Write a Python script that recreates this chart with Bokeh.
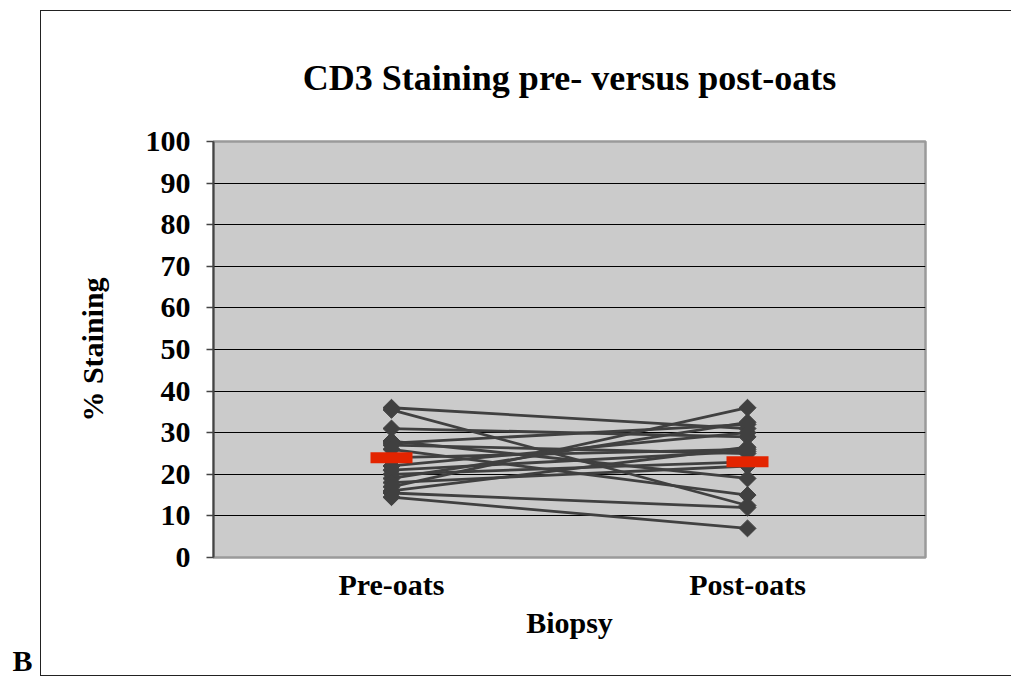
from bokeh.plotting import figure
from bokeh.models import (Range1d, FactorRange, FixedTicker, CategoricalAxis, Title,
                          InlineStyleSheet)
from bokeh.embed import file_html
from bokeh.resources import INLINE
import numpy as np

title_text = "CD3 Staining pre- versus post-oats"
panel_letter = "B"
categories = ["Pre-oats", "Post-oats"]
pre_values = [36, 35.5, 31, 28, 27.5, 27, 26, 24, 22, 21, 20, 19, 18, 17, 16, 15.5, 14.5]
post_values = [31, 12.5, 29, 19, 32, 25, 15, 26, 30, 25.5, 23, 32.5, 22, 36, 26.5, 12, 7]
mean_values = [24, 23]
y_ticks = list(range(0, 101, 10))

FONT = "Liberation Serif"

p = figure(width=1011, height=680, x_range=FactorRange(*categories, range_padding=0),
           y_range=Range1d(0, 100), output_backend="svg", toolbar_location=None,
           min_border_left=213, min_border_right=86, min_border_top=141, min_border_bottom=123)

p.background_fill_color = "#cbcbcb"
p.border_fill_color = "white"
p.outline_line_color = "#9a9a9a"
p.outline_line_width = 2.5

p.xgrid.grid_line_color = None
p.ygrid.grid_line_color = "black"
p.ygrid.grid_line_width = 1
p.yaxis.ticker = FixedTicker(ticks=y_ticks)

for ax in (p.xaxis[0], p.yaxis[0]):
    ax.major_label_text_font = FONT
    ax.major_label_text_font_size = "30px"
    ax.major_label_text_font_style = "bold"
    ax.major_label_text_color = "black"
    ax.axis_label_text_font = FONT
    ax.axis_label_text_font_size = "30px"
    ax.axis_label_text_font_style = "bold"
    ax.axis_label_text_color = "black"
    ax.minor_tick_line_color = None

p.yaxis.axis_label = "% Staining"
p.yaxis.axis_line_color = "#444444"
p.yaxis.axis_line_width = 2
p.yaxis.major_tick_line_color = "#444444"
p.yaxis.major_tick_line_width = 1.5
p.yaxis.major_tick_out = 7
p.yaxis.major_tick_in = 0
p.yaxis.major_label_standoff = 16
p.yaxis.axis_label_standoff = 34

p.xaxis.axis_label = "Biopsy"
p.xaxis.axis_line_color = "#9a9a9a"
p.xaxis.axis_line_width = 1
p.xaxis.major_tick_line_color = None
p.xaxis.major_tick_out = 0
p.xaxis.major_label_standoff = 10
p.xaxis.axis_label_standoff = 2

# chart title drawn as the label of an empty top axis (keeps the serif font)
p.extra_x_ranges = {"title": FactorRange("t")}
title_axis = CategoricalAxis(x_range_name="title", axis_label=title_text,
                             axis_line_color=None, major_tick_line_color=None,
                             minor_tick_line_color=None, major_tick_out=0, major_tick_in=0,
                             major_label_text_font_size="1px", major_label_text_alpha=0,
                             major_label_standoff=0, axis_label_standoff=44,
                             axis_label_text_font=FONT, axis_label_text_font_size="36px",
                             axis_label_text_font_style="bold", axis_label_text_color="black")
p.add_layout(title_axis, "above")

xs = [[categories[0], categories[1]] for _ in pre_values]
ys = [[a, b] for a, b in zip(pre_values, post_values)]
p.multi_line(xs=xs, ys=ys, line_color="#404040", line_width=2.8)

px = [categories[0]] * len(pre_values) + [categories[1]] * len(post_values)
py = pre_values + post_values
p.scatter(x=px, y=py, marker="square", angle=np.pi / 4, size=12,
          fill_color="#404040", line_color="#404040")

p.rect(x=categories, y=mean_values, width=42, height=11, width_units="screen",
       height_units="screen", fill_color="#e32400", line_color=None)

letter = Title(text=panel_letter, align="left", offset=-201, standoff=0)
letter.text_font = FONT
letter.text_font_size = "30px"
letter.text_font_style = "bold"
letter.text_color = "black"
p.add_layout(letter, "below")

p.stylesheets = [InlineStyleSheet(css="""
:host { position: relative; }
:host::after {
  content: "";
  position: absolute;
  left: 40px; top: 10px; right: 0px; bottom: 4px;
  border: 1.5px solid #222222;
  border-right: none;
  pointer-events: none;
  z-index: 10;
}
""")]

open("out.html", "w").write(file_html(p, INLINE))
